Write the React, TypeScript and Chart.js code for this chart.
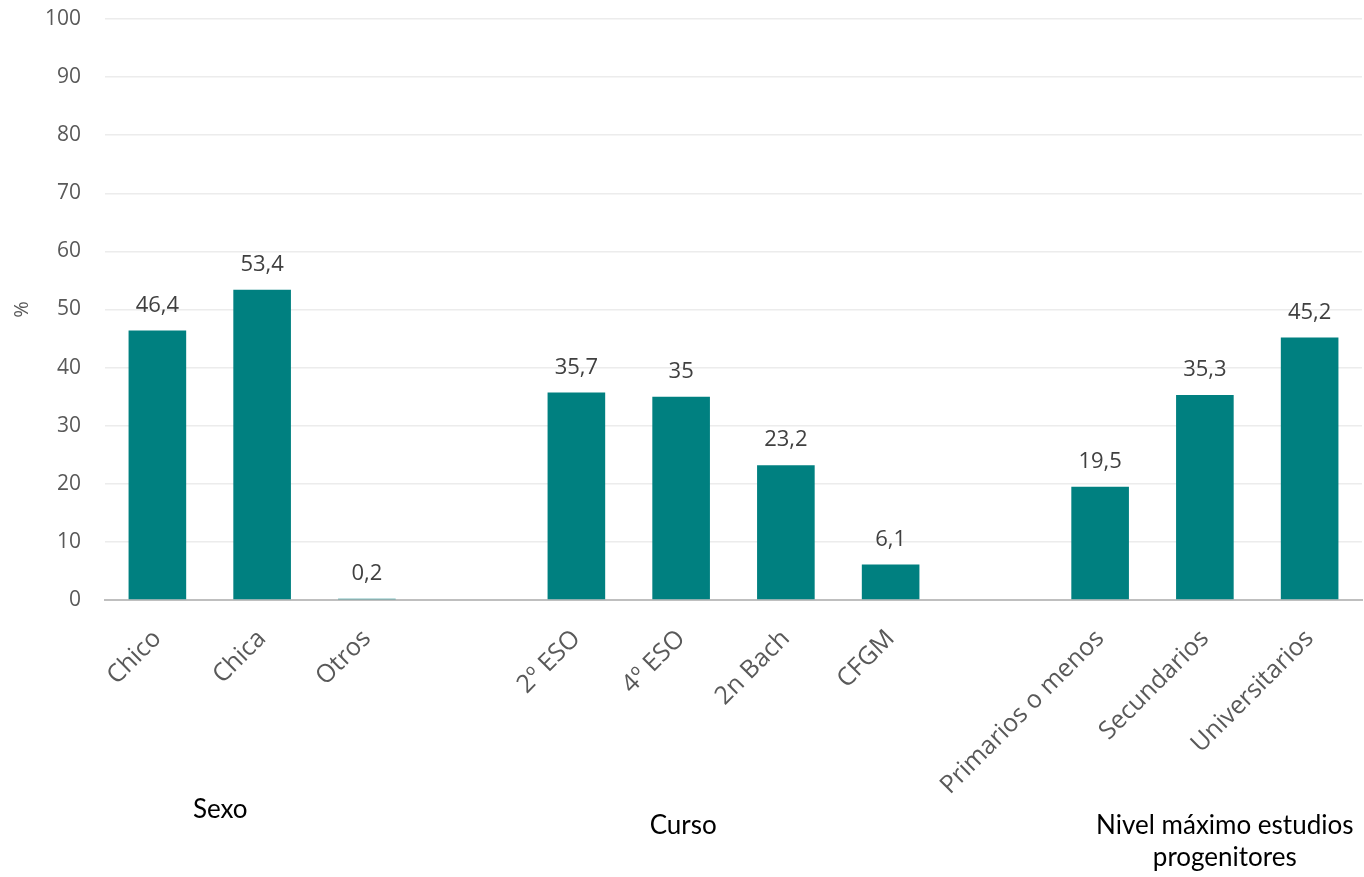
import React, { useEffect, useRef } from "react";
import { Chart, registerables } from "chart.js";

Chart.register(...registerables);

const categories = [
  "Chico", "Chica", "Otros", "",
  "2º ESO", "4º ESO", "2n Bach", "CFGM", "",
  "Primarios o menos", "Secundarios", "Universitarios",
];
const values: (number | null)[] = [
  46.4, 53.4, 0.2, null,
  35.7, 35, 23.2, 6.1, null,
  19.5, 35.3, 45.2,
];
const yTicks = [0, 10, 20, 30, 40, 50, 60, 70, 80, 90, 100];
const groupNames = ["Sexo", "Curso", "Nivel máximo estudios\nprogenitores"];
const axisTitle = "%";

const TICK_FONT = "'Open Sans', sans-serif";
const GROUP_FONT = "Lato, 'Open Sans', sans-serif";

export default function App() {
  const ref = useRef<HTMLCanvasElement | null>(null);
  useEffect(() => {
    if (!ref.current) return;
    const labelsPlugin = {
      id: "extraLabels",
      afterDatasetsDraw(chart: any) {
        const ctx = chart.ctx;
        const meta = chart.getDatasetMeta(0);
        ctx.save();
        ctx.font = `22px ${TICK_FONT}`;
        ctx.fillStyle = "#404040";
        ctx.textAlign = "center";
        ctx.textBaseline = "middle";
        meta.data.forEach((bar: any, i: number) => {
          const v = values[i];
          if (v === null || v === undefined) return;
          ctx.fillText(String(v).replace(".", ","), bar.x, bar.y - 25);
        });
        ctx.restore();
      },
      afterDraw(chart: any) {
        const ctx = chart.ctx;
        const xs = chart.scales.x;
        const ys = chart.scales.y;
        ctx.save();
        ctx.font = `20px ${TICK_FONT}`;
        ctx.fillStyle = "#595959";
        ctx.textAlign = "center";
        ctx.textBaseline = "middle";
        ctx.translate(22, ys.getPixelForValue(50));
        ctx.rotate(-Math.PI / 2);
        ctx.fillText(axisTitle, 0, 0);
        ctx.restore();

        ctx.save();
        ctx.font = `26px ${GROUP_FONT}`;
        ctx.fillStyle = "#000000";
        ctx.textAlign = "center";
        ctx.textBaseline = "middle";
        const anchors = [
          { idx: 0.6, y: 810 },
          { idx: 5.02, y: 826 },
          { idx: 10.19, y: 826 },
        ];
        groupNames.forEach((name, g) => {
          const a = anchors[g];
          const step = xs.getPixelForValue(1) - xs.getPixelForValue(0);
          const x = xs.getPixelForValue(0) + step * a.idx;
          name.split("\n").forEach((line, li) => {
            ctx.fillText(line, x, a.y + li * 32);
          });
        });
        ctx.restore();
      },
    };

    const chart = new Chart(ref.current, {
      type: "bar",
      data: {
        labels: categories,
        datasets: [
          {
            data: values,
            backgroundColor: "#008080",
            borderWidth: 0,
            barPercentage: 0.55,
            categoryPercentage: 1,
          },
        ],
      },
      options: {
        animation: false,
        responsive: false,
        layout: { padding: { top: 19, right: 2, left: 0, bottom: 0 } },
        plugins: {
          legend: { display: false },
          tooltip: { enabled: false },
          title: { display: false },
        },
        scales: {
          x: {
            grid: { display: false },
            border: { color: "#bfbfbf", width: 2 },
            ticks: {
              color: "#595959",
              font: { family: TICK_FONT, size: 25 },
              minRotation: 45,
              maxRotation: 45,
              autoSkip: false,
              padding: 16,
            },
            afterFit(scale: any) {
              scale.height = 277;
              scale.paddingLeft = 0;
              scale.paddingRight = 0;
            },
          },
          y: {
            min: 0,
            max: 100,
            afterBuildTicks(scale: any) {
              scale.ticks = yTicks.map((v) => ({ value: v }));
            },
            grid: { color: "#ececec", lineWidth: 1.5, drawTicks: false },
            border: { display: false },
            ticks: {
              color: "#595959",
              font: { family: TICK_FONT, size: 21 },
              padding: 24,
            },
            afterFit(scale: any) {
              scale.width = 105;
              scale.paddingTop = 0;
              scale.paddingBottom = 0;
            },
          },
        },
      },
      plugins: [labelsPlugin],
    });
    return () => chart.destroy();
  }, []);

  return (
    <div style={{ position: "absolute", left: 0, top: 0, width: 1364, height: 877, background: "#fff" }}>
      <canvas ref={ref} width={1364} height={877} style={{ width: 1364, height: 877 }} />
    </div>
  );
}
